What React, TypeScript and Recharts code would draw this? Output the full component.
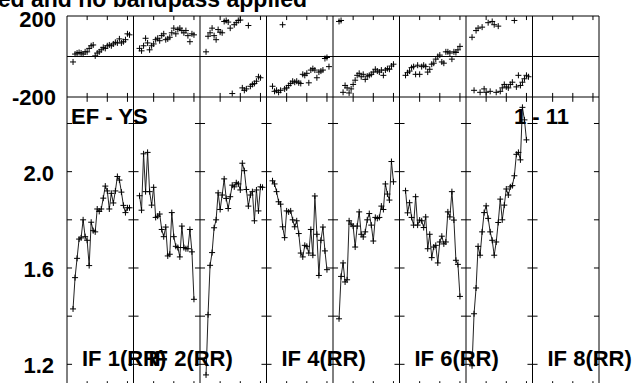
import React from "react";
import { ComposedChart, Line, XAxis, YAxis, ReferenceLine } from "recharts";

// phase (deg) and amplitude per IF, one value per channel starting at FIRST_CH
const PHASE_IF1 = [-27, 12, 17, 20, 17, 12, 23, 23, 40, 53, 57, 3, 17, 23, 33, 45, 40, 53, 57, 53, 62, 70, 67, 87, 67, 73, 83, 112, 107];
const PHASE_IF2 = [40, 28, 53, 90, 67, 33, 53, 62, 83, 90, 78, 103, 112, 83, 87, 95, 117, 140, 112, 133, 140, 128, 117, 128, 103, 73, 112, 107];
const PHASE_IF3 = [23, 100, 117, 140, 103, 83, 133, 120, 117, 173, 178, 170, 140, -183, 157, 167, 178, 180, -155, -167, -160, 153, -147, -138, -133, -122, -100, -105];
const PHASE_IF4 = [-147, -172, -167, -177, -167, 157, -160, -155, -143, -133, -122, -127, -122, -130, -133, -88, -93, -83, -130, -67, -60, -67, -105, -77, -72, -67, -10, -5, -50];
const PHASE_IF5 = [173, 178, -177, -143, -155, -180, -160, -138, -117, -93, -83, -100, -88, -113, -97, -93, -88, -77, -63, -72, -77, -67, -93, -67, -60, -63, -47, -38];
const PHASE_IF6 = [-93, -80, -72, -55, -50, -88, -43, -88, -50, -43, -50, -77, -63, -38, -33, -13, 0, 7, -27, -33, 23, 23, 17, -13, 23, 20, 33, 50];
const PHASE_IF7 = [95, -167, 128, 140, -177, 145, -160, -177, 167, -172, 173, 157, -177, 150, -172, -155, -138, -150, -155, -138, -127, 178, -150, -93, -143, -127, -110, -93, -100];
const PHASE_IF8: number[] = [];

const AMP_IF1 = [1.43, 1.56, 1.64, 1.72, 1.725, 1.8, 1.73, 1.715, 1.61, 1.79, 1.755, 1.75, 1.845, 1.835, 1.845, 1.89, 1.94, 1.92, 1.845, 1.91, 1.87, 1.92, 1.98, 1.965, 1.915, 1.86, 1.83, 1.85, 1.85];
const AMP_IF2 = [1.9, 1.84, 2.074, 1.917, 2.08, 1.917, 1.861, 1.935, 1.81, 1.815, 1.824, 1.76, 1.73, 1.77, 1.65, 1.657, 1.83, 1.73, 1.69, 1.685, 1.646, 1.774, 1.685, 1.68, 1.68, 1.76, 1.667, 1.47];
const AMP_IF3 = [1.156, 1.406, 1.611, 1.664, 1.767, 1.8, 1.912, 1.843, 1.903, 1.97, 1.889, 1.847, 1.896, 1.944, 1.937, 1.954, 1.949, 1.924, 2.035, 2.004, 1.926, 1.857, 1.903, 1.917, 1.796, 1.924, 1.837, 1.937, 1.935];
const AMP_IF4 = [1.962, 1.949, 1.917, 1.875, 1.865, 1.771, 1.726, 1.837, 1.833, 1.837, 1.8, 1.771, 1.796, 1.743, 1.662, 1.646, 1.694, 1.69, 1.662, 1.76, 1.653, 1.899, 1.74, 1.569, 1.715, 1.77, 1.671, 1.593];
const AMP_IF5 = [1.389, 1.565, 1.621, 1.542, 1.551, 1.796, 1.782, 1.774, 1.687, 1.774, 1.833, 1.74, 1.729, 1.75, 1.8, 1.826, 1.778, 1.712, 1.81, 1.806, 1.81, 1.857, 1.843, 1.949, 1.907, 1.882, 2.042, 1.958];
const AMP_IF6 = [1.921, 1.829, 1.871, 1.81, 1.778, 1.896, 1.778, 1.799, 1.796, 1.768, 1.812, 1.68, 1.74, 1.643, 1.687, 1.694, 1.621, 1.708, 1.732, 1.7, 1.708, 1.833, 1.812, 1.917, 1.799, 1.632, 1.615, 1.482];
const AMP_IF7 = [1.194, 1.41, 1.517, 1.69, 1.653, 1.75, 1.83, 1.858, 1.806, 1.75, 1.715, 1.653, 1.708, 1.789, 1.886, 1.8, 1.861, 1.928, 1.903, 1.937, 1.942, 1.983, 2.072, 2.08, 2.049, 2.267, 2.215, 2.132];
const AMP_IF8: number[] = [];

const PHASES = [PHASE_IF1, PHASE_IF2, PHASE_IF3, PHASE_IF4, PHASE_IF5, PHASE_IF6, PHASE_IF7, PHASE_IF8];
const AMPS = [AMP_IF1, AMP_IF2, AMP_IF3, AMP_IF4, AMP_IF5, AMP_IF6, AMP_IF7, AMP_IF8];
const IF_LABELS = ["IF 1(RR)", "IF 2(RR)", "", "IF 4(RR)", "", "IF 6(RR)", "", "IF 8(RR)"];

const PHASE_TICKS = [-200, 200];
const AMP_TICKS = [1.2, 1.4, 1.6, 1.8, 2.0, 2.2];
const AMP_LABELS = [1.2, 1.6, 2.0];
const CH_TICKS = [10, 20, 30];

const PANEL_CH = 33;
const FIRST_CH = 3;
const NPANEL = 8;
const X_MAX = PANEL_CH * NPANEL;
const AMP_DOMAIN: [number, number] = [1.11, 2.31];
const PHASE_DOMAIN: [number, number] = [-200, 200];

// layout
const W = 642;
const H = 383;
const PLOT_L = 67;
const PLOT_R = 599;
const PANEL_W = (PLOT_R - PLOT_L) / NPANEL;
const FONT = "'Liberation Sans', Arial, Helvetica, sans-serif";

// tick lengths in data units
const TX = 2.5;
const TY_AMP = 0.02;
const TY_PH = 20;

const toPts = (vals: number[], k: number) =>
  vals.map((v, i) => ({ x: k * PANEL_CH + FIRST_CH + i, y: v }));

const Plus = (props: any) => {
  const { cx, cy, index } = props;
  if (cx == null || cy == null) return <g key={`p${index}`} />;
  return (
    <path
      key={`p${index}`}
      d={`M${cx - 3},${cy}h6M${cx},${cy - 3}v6`}
      stroke="#000"
      strokeWidth={1}
      fill="none"
    />
  );
};

const labelTick = (labels: number[], right: number, dy: (v: number) => number) => (props: any) => {
  const { y, payload } = props;
  const v = payload?.value;
  if (!labels.includes(v)) return <g />;
  const txt = Math.abs(v) >= 100 ? String(v) : v.toFixed(1);
  return (
    <text x={right} y={y + dy(v)} textAnchor="end" fontFamily={FONT} fontWeight="bold" fontSize={22} fill="#000">
      {txt}
    </text>
  );
};

const boundaries = Array.from({ length: NPANEL + 1 }, (_, k) => k * PANEL_CH);
const chTickXs = Array.from({ length: NPANEL }, (_, k) => CH_TICKS.map((c) => k * PANEL_CH + c)).flat();

export default function App() {
  return (
    <div style={{ position: "absolute", left: 0, top: 0, width: W, height: H, overflow: "hidden", background: "#fff" }}>
      {/* phase panel (svg taller than the plot so the -200 label is not clipped) */}
      <div style={{ position: "absolute", left: 0, top: 0 }}>
        <ComposedChart width={W} height={125} margin={{ top: 16, right: W - PLOT_R, bottom: 28, left: 0 }}>
          <XAxis type="number" dataKey="x" domain={[0, X_MAX]} hide allowDataOverflow />
          <YAxis
            type="number"
            domain={PHASE_DOMAIN}
            ticks={PHASE_TICKS}
            width={PLOT_L}
            axisLine={false}
            tickLine={false}
            interval={0}
            tick={labelTick(PHASE_TICKS, 56, (v) => (v > 0 ? 11 : 8))}
            allowDataOverflow
          />
          {PHASE_TICKS.concat([0]).map((v) => (
            <ReferenceLine key={`h${v}`} y={v} stroke="#000" strokeWidth={1} />
          ))}
          {boundaries.map((b) => (
            <ReferenceLine key={`b${b}`} x={b} stroke="#000" strokeWidth={1} />
          ))}
          {chTickXs.map((x) => (
            <ReferenceLine key={`tt${x}`} segment={[{ x, y: 200 }, { x, y: 200 - TY_PH }]} stroke="#000" ifOverflow="visible" />
          ))}
          {chTickXs.map((x) => (
            <ReferenceLine key={`tb${x}`} segment={[{ x, y: -200 }, { x, y: -200 + TY_PH }]} stroke="#000" ifOverflow="visible" />
          ))}
          {PHASES.map((vals, k) => (
            <Line
              key={`ph${k}`}
              data={toPts(vals, k)}
              dataKey="y"
              stroke="none"
              dot={Plus}
              activeDot={false}
              isAnimationActive={false}
            />
          ))}
        </ComposedChart>
      </div>

      {/* amplitude panel */}
      <div style={{ position: "absolute", left: 0, top: 0 }}>
        <ComposedChart width={W} height={400} margin={{ top: 97, right: W - PLOT_R, bottom: 14, left: 0 }}>
          <XAxis type="number" dataKey="x" domain={[0, X_MAX]} hide allowDataOverflow />
          <YAxis
            type="number"
            domain={AMP_DOMAIN}
            ticks={AMP_TICKS}
            width={PLOT_L}
            axisLine={false}
            tickLine={false}
            interval={0}
            tick={labelTick(AMP_LABELS, 54, () => 9)}
            allowDataOverflow
          />
          {boundaries.map((b) => (
            <ReferenceLine key={`b${b}`} x={b} stroke="#000" strokeWidth={1} />
          ))}
          {boundaries.map((b, k) =>
            AMP_TICKS.map((t) => (
              <ReferenceLine
                key={`yt${b}-${t}`}
                segment={[
                  { x: k > 0 ? b - TX : b, y: t },
                  { x: k < NPANEL ? b + TX : b, y: t },
                ]}
                stroke="#000"
                ifOverflow="visible"
              />
            ))
          )}
          {chTickXs.map((x) => (
            <ReferenceLine key={`at${x}`} segment={[{ x, y: AMP_DOMAIN[1] }, { x, y: AMP_DOMAIN[1] - TY_AMP }]} stroke="#000" ifOverflow="visible" />
          ))}
          {chTickXs.map((x) => (
            <ReferenceLine key={`ab${x}`} segment={[{ x, y: AMP_DOMAIN[0] }, { x, y: AMP_DOMAIN[0] + TY_AMP }]} stroke="#000" ifOverflow="visible" />
          ))}
          {AMPS.map((vals, k) => (
            <Line
              key={`am${k}`}
              data={toPts(vals, k)}
              dataKey="y"
              type="linear"
              stroke="#222"
              strokeWidth={1}
              dot={Plus}
              activeDot={false}
              isAnimationActive={false}
            />
          ))}
        </ComposedChart>
      </div>

      {/* text overlay */}
      <svg width={W} height={H} style={{ position: "absolute", left: 0, top: 0, pointerEvents: "none" }}>
        <g fontFamily={FONT} fontWeight="bold" fill="#000">
          <text x={307} y={7} textAnchor="end" fontSize={23}>ed and no bandpass applied</text>
          <text x={71} y={124} fontSize={22}>EF - YS</text>
          <text x={514} y={124} fontSize={22}>1 - 11</text>
          {IF_LABELS.map((s, k) =>
            s ? (
              <text key={s} x={PLOT_L + PANEL_W * k + 15} y={366} fontSize={22}>
                {s}
              </text>
            ) : null
          )}
        </g>
      </svg>
    </div>
  );
}
